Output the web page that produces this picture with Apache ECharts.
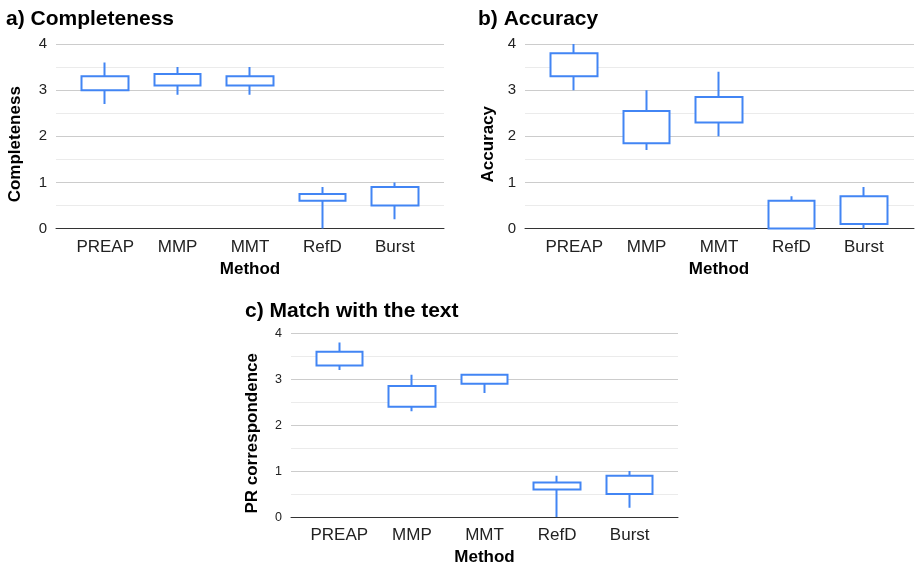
<!DOCTYPE html>
<html>
<head>
<meta charset="utf-8">
<script src="https://cdn.jsdelivr.net/npm/echarts@6/dist/echarts.min.js"></script>
<style>
  html, body { margin: 0; padding: 0; background: #fff; }
  #chart { width: 915px; height: 567px; }
</style>
</head>
<body>
<div id="chart"></div>
<script>
// ---- Data ----
const methods = ['PREAP', 'MMP', 'MMT', 'RefD', 'Burst'];
// each entry: [box bottom, box top, whisker low, whisker high]
const completeness = [
  [3.0, 3.3, 2.7, 3.6],
  [3.1, 3.35, 2.9, 3.5],
  [3.1, 3.3, 2.9, 3.5],
  [0.6, 0.75, 0.0, 0.9],
  [0.5, 0.9, 0.2, 1.0]
];
const accuracy = [
  [3.3, 3.8, 3.0, 4.0],
  [1.85, 2.55, 1.7, 3.0],
  [2.3, 2.85, 2.0, 3.4],
  [0.0, 0.6, 0.0, 0.7],
  [0.1, 0.7, 0.0, 0.9]
];
const prCorrespondence = [
  [3.3, 3.6, 3.2, 3.8],
  [2.4, 2.85, 2.3, 3.1],
  [2.9, 3.1, 2.7, 3.1],
  [0.6, 0.75, 0.0, 0.9],
  [0.5, 0.9, 0.2, 1.0]
];
const yMin = 0, yMax = 4, yStep = 1;
const titles = ['a) Completeness', 'b) Accuracy', 'c) Match with the text'];
const yNames = ['Completeness', 'Accuracy', 'PR correspondence'];
const xName = 'Method';

// ---- Layout ----
const FONT = '"Liberation Sans", Arial, sans-serif';
const BLUE = '#4285f4';
const panels = [
  { data: completeness, bg: { left: 56, width: 388, top: 44, height: 184.5 }, fg: { left: 69, width: 362 },
    title: { left: 6, top: 9 }, yLabelSize: 15, yNameGap: 32 },
  { data: accuracy, bg: { left: 525, width: 389, top: 44, height: 184.5 }, fg: { left: 538, width: 362 },
    title: { left: 478, top: 9 }, yLabelSize: 15, yNameGap: 28 },
  { data: prCorrespondence, bg: { left: 291, width: 387, top: 333.3, height: 184 }, fg: { left: 303, width: 363 },
    title: { left: 245, top: 301 }, yLabelSize: 12.5, yNameGap: 30 }
];

const grid = [], xAxis = [], yAxis = [], series = [], title = [];
panels.forEach((p, i) => {
  const gBg = grid.length;
  grid.push({ left: p.bg.left, width: p.bg.width, top: p.bg.top, height: p.bg.height });
  const gFg = grid.length;
  grid.push({ left: p.fg.left, width: p.fg.width, top: p.bg.top, height: p.bg.height });

  title.push({
    text: titles[i], left: p.title.left, top: p.title.top, padding: 0,
    textStyle: { fontFamily: FONT, fontWeight: 'bold', fontSize: 21, color: '#000' }
  });

  // background axes: gridlines, y labels, zero line
  xAxis.push({
    gridIndex: gBg, type: 'value', min: 0, max: 1,
    axisLine: { show: true, onZero: false, lineStyle: { color: '#333', width: 1 } },
    axisTick: { show: false }, axisLabel: { show: false }, splitLine: { show: false }
  });
  yAxis.push({
    gridIndex: gBg, type: 'value', min: yMin, max: yMax, interval: yStep,
    name: yNames[i], nameLocation: 'middle', nameGap: p.yNameGap,
    nameTextStyle: { fontFamily: FONT, fontWeight: 'bold', fontSize: 17, color: '#000', padding: [0, 16, 0, 0] },
    axisLine: { show: false }, axisTick: { show: false },
    axisLabel: { fontFamily: FONT, fontSize: p.yLabelSize, color: '#222', margin: 9 },
    splitLine: { show: true, lineStyle: { color: '#cccccc', width: 1 } },
    minorTick: { show: false, splitNumber: 2 },
    minorSplitLine: { show: true, lineStyle: { color: '#ebebeb', width: 1 } }
  });

  // data axes
  xAxis.push({
    gridIndex: gFg, type: 'category', data: methods, boundaryGap: true,
    name: xName, nameLocation: 'middle', nameGap: 32,
    nameTextStyle: { fontFamily: FONT, fontWeight: 'bold', fontSize: 17, color: '#000' },
    axisLine: { show: false }, axisTick: { show: false },
    axisLabel: { fontFamily: FONT, fontSize: 17, color: '#222', margin: 10, interval: 0 },
    splitLine: { show: false }
  });
  yAxis.push({
    gridIndex: gFg, type: 'value', min: yMin, max: yMax, interval: yStep,
    axisLine: { show: false }, axisTick: { show: false }, axisLabel: { show: false },
    splitLine: { show: false }
  });

  series.push({
    type: 'candlestick',
    xAxisIndex: xAxis.length - 1, yAxisIndex: yAxis.length - 1,
    data: p.data,
    barWidth: 47,
    itemStyle: {
      color: '#ffffff', color0: '#ffffff',
      borderColor: BLUE, borderColor0: BLUE, borderWidth: 2
    },
    emphasis: { disabled: true }
  });
});

const chart = echarts.init(document.getElementById('chart'), null, { renderer: 'canvas' });
chart.setOption({
  animation: false,
  backgroundColor: '#ffffff',
  title, grid, xAxis, yAxis, series
});
</script>
</body>
</html>
